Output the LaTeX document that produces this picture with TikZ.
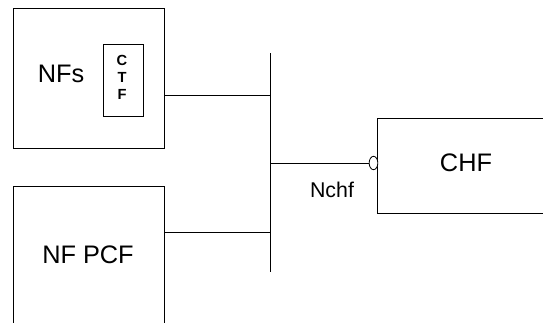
\documentclass[tikz,border=0pt]{standalone}
\usepackage{fontspec}
\setmainfont{Liberation Sans}
\usetikzlibrary{shapes.geometric}

\tikzset{
  blockbox/.style={draw, line width=0.6pt, inner sep=0pt},
  bigtext/.style={inner sep=0.75pt, font=\fontsize{19}{23}\selectfont},
  midtext/.style={inner sep=0.75pt, font=\fontsize{16}{19}\selectfont},
  ctftext/.style={inner sep=0.75pt, align=center, font=\fontsize{11}{12.75}\selectfont\bfseries},
  wire/.style={line width=0.6pt}
}

\begin{document}
\begin{tikzpicture}[x=0.75pt,y=0.75pt,yscale=-1,xscale=1]
%set diagram frame
\useasboundingbox (0,0) rectangle (543,322);
\clip (0,0) rectangle (543,322);

%Boxes
\node [blockbox, minimum width=113.25pt, minimum height=105pt] (nfs) at (88.5,78) {};
\node [blockbox, minimum width=30pt, minimum height=54pt] (ctf) at (123.5,80) {};
\node [blockbox, minimum width=113.25pt, minimum height=120pt] (pcf) at (88.5,266) {};
\node [blockbox, minimum width=140pt, minimum height=71.25pt] (chf) at (471,165.5) {};

% Text Node
\node [bigtext] (nfslbl) at (61,74) {NFs};
\node [ctftext] (ctflbl) at (122,77.5) {C\\T\\F};
\node [bigtext] (pcflbl) at (88,255) {NF PCF};
\node [bigtext] (chflbl) at (466,163) {CHF};
\node [midtext] (nchf) at (332,190) {Nchf};

%Bus
\coordinate (bustop) at (270,53);
\coordinate (busbot) at (270,272);
\coordinate (busnfs) at (270,95);
\coordinate (buspcf) at (270,232);
\coordinate (buschf) at (270,163);
\draw [wire] (bustop) -- (busbot);

%Straight Lines
\draw [wire] (busnfs -| nfs.east) -- (busnfs);
\draw [wire] (buspcf -| pcf.east) -- (buspcf);
\node [ellipse, draw, line width=0.6pt, fill=white, minimum width=6.5pt, minimum height=10pt, inner sep=0pt] (port) at (373.5,163) {};
\draw [wire] (buschf) -- (port.west);

\end{tikzpicture}
\end{document}
